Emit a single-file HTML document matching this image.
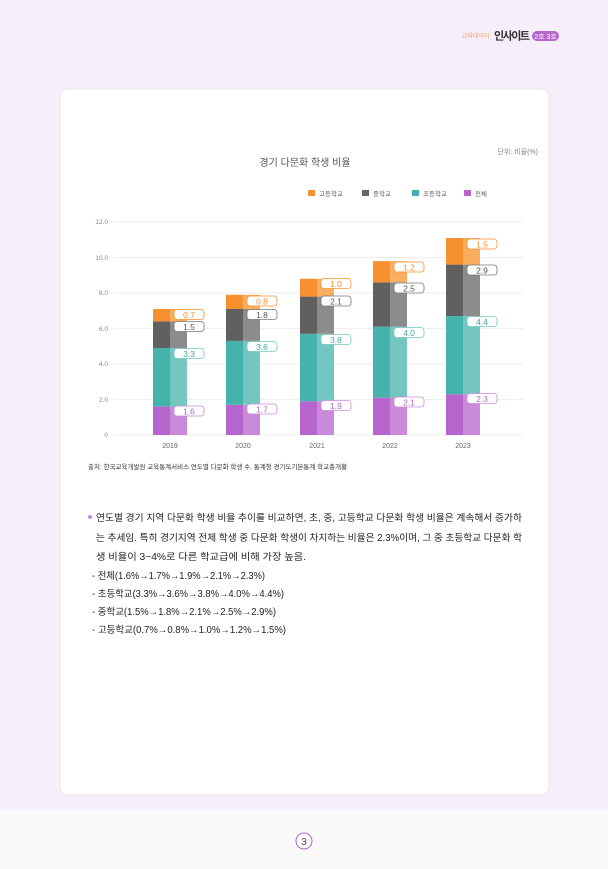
<!DOCTYPE html>
<html><head><meta charset="utf-8"><style>
body{margin:0;width:608px;height:869px;background:#fbfafb;font-family:"Liberation Sans","Noto Sans CJK KR",sans-serif;overflow:hidden}
</style></head><body>
<svg width="608" height="869" xmlns="http://www.w3.org/2000/svg" style="position:absolute;left:0;top:0" font-family="Liberation Sans, Noto Sans CJK KR, sans-serif">
<rect x="0" y="0" width="608" height="810" fill="#f6eefa"/>
<rect x="0" y="810" width="608" height="59" fill="#fafafa"/>
<text x="462" y="38" font-size="6" fill="#f0a060">교육데이터</text>
<text x="494" y="39.5" font-size="11" font-weight="bold" fill="#333" textLength="36">인사이트</text>
<rect x="532" y="31" width="27" height="10" rx="5" fill="#b565cc"/>
<text x="545.5" y="39" font-size="7" fill="#fff" text-anchor="middle">2호 3호</text>
<rect x="60" y="89" width="489" height="706" rx="8" fill="#fff" stroke="#ece6ee"/>
<text x="538" y="154" font-size="7" fill="#888" text-anchor="end">단위: 비율(%)</text>
<text x="305" y="166" font-size="10" fill="#555" text-anchor="middle">경기 다문화 학생 비율</text>
<g font-size="6.5" fill="#666">
<rect x="308" y="190" width="7" height="6" fill="#f7902f"/><text x="319" y="196">고등학교</text>
<rect x="362" y="190" width="7" height="6" fill="#666"/><text x="373" y="196">중학교</text>
<rect x="412" y="190" width="7" height="6" fill="#3fb0ab"/><text x="423" y="196">초등학교</text>
<rect x="464" y="190" width="7" height="6" fill="#b565cc"/><text x="475" y="196">전체</text>
</g>
<g stroke="#e8e8e8" stroke-width="0.8">
<line x1="113" x2="523" y1="222" y2="222"/><line x1="113" x2="523" y1="257.5" y2="257.5"/>
<line x1="113" x2="523" y1="293" y2="293"/><line x1="113" x2="523" y1="328.5" y2="328.5"/>
<line x1="113" x2="523" y1="364" y2="364"/><line x1="113" x2="523" y1="399.5" y2="399.5"/>
<line x1="113" x2="523" y1="435" y2="435"/>
</g>
<g font-size="6.5" fill="#888" text-anchor="end">
<text x="108" y="224">12.0</text><text x="108" y="260">10.0</text><text x="108" y="295">8.0</text>
<text x="108" y="331">6.0</text><text x="108" y="366">4.0</text><text x="108" y="402">2.0</text><text x="108" y="437">0</text>
</g>
<g font-size="7" fill="#666" text-anchor="middle">
<text x="170" y="448">2019</text><text x="243" y="448">2020</text><text x="317" y="448">2021</text><text x="390" y="448">2022</text><text x="463" y="448">2023</text>
</g>
<g>
<rect x="153" y="406.6" width="17" height="28.4" fill="#b565cc"/><rect x="170" y="406.6" width="17" height="28.4" fill="#c98ad9"/>
<rect x="153" y="348" width="17" height="58.6" fill="#45b3ac"/><rect x="170" y="348" width="17" height="58.6" fill="#74c7c0"/>
<rect x="153" y="321.4" width="17" height="26.6" fill="#606060"/><rect x="170" y="321.4" width="17" height="26.6" fill="#8c8c8c"/>
<rect x="153" y="309" width="17" height="12.4" fill="#f7902f"/><rect x="170" y="309" width="17" height="12.4" fill="#f9ad5e"/>
<rect x="226" y="404.8" width="17" height="30.2" fill="#b565cc"/><rect x="243" y="404.8" width="17" height="30.2" fill="#c98ad9"/>
<rect x="226" y="340.9" width="17" height="63.9" fill="#45b3ac"/><rect x="243" y="340.9" width="17" height="63.9" fill="#74c7c0"/>
<rect x="226" y="309" width="17" height="31.9" fill="#606060"/><rect x="243" y="309" width="17" height="31.9" fill="#8c8c8c"/>
<rect x="226" y="294.8" width="17" height="14.2" fill="#f7902f"/><rect x="243" y="294.8" width="17" height="14.2" fill="#f9ad5e"/>
<rect x="300" y="401.3" width="17" height="33.7" fill="#b565cc"/><rect x="317" y="401.3" width="17" height="33.7" fill="#c98ad9"/>
<rect x="300" y="333.8" width="17" height="67.5" fill="#45b3ac"/><rect x="317" y="333.8" width="17" height="67.5" fill="#74c7c0"/>
<rect x="300" y="296.6" width="17" height="37.2" fill="#606060"/><rect x="317" y="296.6" width="17" height="37.2" fill="#8c8c8c"/>
<rect x="300" y="278.8" width="17" height="17.8" fill="#f7902f"/><rect x="317" y="278.8" width="17" height="17.8" fill="#f9ad5e"/>
<rect x="373" y="397.7" width="17" height="37.3" fill="#b565cc"/><rect x="390" y="397.7" width="17" height="37.3" fill="#c98ad9"/>
<rect x="373" y="326.7" width="17" height="71" fill="#45b3ac"/><rect x="390" y="326.7" width="17" height="71" fill="#74c7c0"/>
<rect x="373" y="282.3" width="17" height="44.4" fill="#606060"/><rect x="390" y="282.3" width="17" height="44.4" fill="#8c8c8c"/>
<rect x="373" y="261.1" width="17" height="21.2" fill="#f7902f"/><rect x="390" y="261.1" width="17" height="21.2" fill="#f9ad5e"/>
<rect x="446" y="394.2" width="17" height="40.8" fill="#b565cc"/><rect x="463" y="394.2" width="17" height="40.8" fill="#c98ad9"/>
<rect x="446" y="316.1" width="17" height="78.1" fill="#45b3ac"/><rect x="463" y="316.1" width="17" height="78.1" fill="#74c7c0"/>
<rect x="446" y="264.6" width="17" height="51.5" fill="#606060"/><rect x="463" y="264.6" width="17" height="51.5" fill="#8c8c8c"/>
<rect x="446" y="238" width="17" height="26.6" fill="#f7902f"/><rect x="463" y="238" width="17" height="26.6" fill="#f9ad5e"/>
</g>
<g font-size="8.5" text-anchor="middle" stroke-width="0.8">
<g fill="#fff" stroke="#c98ad9">
<rect x="174" y="406" width="30" height="10" rx="3"/><rect x="247" y="404" width="30" height="10" rx="3"/><rect x="321" y="400.5" width="30" height="10" rx="3"/><rect x="394" y="397" width="30" height="10" rx="3"/><rect x="467" y="393.5" width="30" height="10" rx="3"/>
</g>
<g fill="#fff" stroke="#74c7c0">
<rect x="174" y="348.5" width="30" height="10" rx="3"/><rect x="247" y="341.5" width="30" height="10" rx="3"/><rect x="321" y="334.5" width="30" height="10" rx="3"/><rect x="394" y="327.5" width="30" height="10" rx="3"/><rect x="467" y="316.5" width="30" height="10" rx="3"/>
</g>
<g fill="#fff" stroke="#777">
<rect x="174" y="321.5" width="30" height="10" rx="3"/><rect x="247" y="309.5" width="30" height="10" rx="3"/><rect x="321" y="296" width="30" height="10" rx="3"/><rect x="394" y="283" width="30" height="10" rx="3"/><rect x="467" y="265" width="30" height="10" rx="3"/>
</g>
<g fill="#fff" stroke="#f7902f">
<rect x="174" y="309.5" width="30" height="10" rx="3"/><rect x="247" y="296" width="30" height="10" rx="3"/><rect x="321" y="278.5" width="30" height="10" rx="3"/><rect x="394" y="262" width="30" height="10" rx="3"/><rect x="467" y="239" width="30" height="10" rx="3"/>
</g>
<g fill="#b565cc"><text x="189" y="414.5">1.6</text><text x="262" y="412.5">1.7</text><text x="336" y="409">1.9</text><text x="409" y="405.5">2.1</text><text x="482" y="402">2.3</text></g>
<g fill="#3fa8a2"><text x="189" y="357">3.3</text><text x="262" y="350">3.6</text><text x="336" y="343">3.8</text><text x="409" y="336">4.0</text><text x="482" y="325">4.4</text></g>
<g fill="#555"><text x="189" y="330">1.5</text><text x="262" y="318">1.8</text><text x="336" y="304.5">2.1</text><text x="409" y="291.5">2.5</text><text x="482" y="273.5">2.9</text></g>
<g fill="#f7902f"><text x="189" y="318">0.7</text><text x="262" y="304.5">0.8</text><text x="336" y="287">1.0</text><text x="409" y="270.5">1.2</text><text x="482" y="247.5">1.5</text></g>
</g>
<text x="88" y="469" font-size="6.5" fill="#333">출처: 한국교육개발원 교육통계서비스 연도별 다문화 학생 수, 통계청 경기도기본통계 학교총개황</text>
<circle cx="90" cy="517" r="2" fill="#c98ad9"/>
<g font-size="9.7" fill="#222">
<text x="96" y="521" textLength="426" lengthAdjust="spacingAndGlyphs">연도별 경기 지역 다문화 학생 비율 추이를 비교하면, 초, 중, 고등학교 다문화 학생 비율은 계속해서 증가하</text>
<text x="96" y="541" textLength="426" lengthAdjust="spacingAndGlyphs">는 추세임. 특히 경기지역 전체 학생 중 다문화 학생이 차지하는 비율은 2.3%이며, 그 중 초등학교 다문화 학</text>
<text x="96" y="560" textLength="210" lengthAdjust="spacingAndGlyphs">생 비율이 3~4%로 다른 학교급에 비해 가장 높음.</text>
<text x="92" y="579" textLength="173" lengthAdjust="spacingAndGlyphs">- 전체(1.6%→1.7%→1.9%→2.1%→2.3%)</text>
<text x="92" y="597" textLength="192" lengthAdjust="spacingAndGlyphs">- 초등학교(3.3%→3.6%→3.8%→4.0%→4.4%)</text>
<text x="92" y="615" textLength="184" lengthAdjust="spacingAndGlyphs">- 중학교(1.5%→1.8%→2.1%→2.5%→2.9%)</text>
<text x="92" y="633" textLength="194" lengthAdjust="spacingAndGlyphs">- 고등학교(0.7%→0.8%→1.0%→1.2%→1.5%)</text>
</g>
<circle cx="304" cy="841" r="8" fill="#fff" stroke="#b565cc"/>
<text x="304" y="845" font-size="10" fill="#555" text-anchor="middle">3</text>
</svg>
</body></html>
